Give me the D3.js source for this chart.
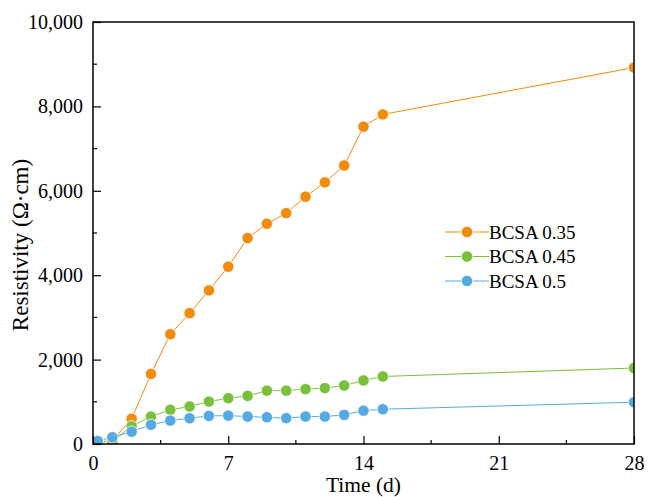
<!DOCTYPE html>
<html>
<head>
<meta charset="utf-8">
<script src="https://cdn.jsdelivr.net/npm/d3@7"></script>
<style>
  html, body { margin: 0; padding: 0; background: #fff; }
  svg { display: block; font-family: "Liberation Serif", "Times New Roman", serif; }
</style>
</head>
<body>
<svg id="chart" width="648" height="497"></svg>
<script>
const days = [0.25, 1, 2, 3, 4, 5, 6, 7, 8, 9, 10, 11, 12, 13, 14, 15, 28];
const bcsa035 = [50, 80, 600, 1660, 2600, 3100, 3640, 4200, 4880, 5220, 5470, 5860, 6200, 6600, 7520, 7810, 8920];
const bcsa045 = [50, 60, 420, 650, 810, 890, 1005, 1085, 1140, 1265, 1265, 1300, 1325, 1385, 1505, 1600, 1800];
const bcsa05 = [70, 160, 292, 455, 555, 610, 665, 673, 650, 633, 612, 650, 650, 690, 790, 824, 990];
const seriesNames = ["BCSA 0.35", "BCSA 0.45", "BCSA 0.5"];
const seriesColors = ["#F28C0C", "#79C13B", "#56AAE3"];
const xTicks = [0, 7, 14, 21, 28];
const yTicks = [0, 2000, 4000, 6000, 8000, 10000];

const series = [bcsa035, bcsa045, bcsa05].map((vals, i) => ({
  name: seriesNames[i], color: seriesColors[i],
  points: days.map((d, j) => ({ x: d, y: vals[j] }))
}));

const svg = d3.select("#chart");
const m = { left: 93, right: 14, top: 22, bottom: 53 };
const W = 648, H = 497;
const x = d3.scaleLinear().domain([0, 28]).range([m.left, W - m.right]);
const y = d3.scaleLinear().domain([0, 10000]).range([H - m.bottom, m.top]);

svg.append("defs").append("clipPath").attr("id", "clip")
  .append("rect").attr("x", m.left).attr("y", m.top)
  .attr("width", x(28) - m.left).attr("height", y(0) - m.top);

const plot = svg.append("g").attr("clip-path", "url(#clip)");
const line = d3.line().x(d => x(d.x)).y(d => y(d.y));

series.forEach(s => {
  plot.append("path").datum(s.points).attr("d", line)
    .attr("fill", "none").attr("stroke", s.color).attr("stroke-width", 1);
});
series.forEach(s => {
  plot.selectAll(null).data(s.points).enter().append("circle")
    .attr("cx", d => x(d.x)).attr("cy", d => y(d.y)).attr("r", 5.7)
    .attr("fill", s.color).attr("stroke", "#fff").attr("stroke-width", 0.8);
});

// frame
svg.append("rect").attr("x", m.left).attr("y", m.top)
  .attr("width", x(28) - m.left).attr("height", y(0) - m.top)
  .attr("fill", "none").attr("stroke", "#000").attr("stroke-width", 1.5);

// x axis
const xAxis = d3.axisBottom(x).tickValues(xTicks).tickSize(-8).tickPadding(12).tickFormat(d3.format("d"));
const gx = svg.append("g").attr("transform", `translate(0,${y(0)})`).call(xAxis);
const xMinor = d3.range(3.5, 28, 7);
gx.selectAll(".minor").data(xMinor).enter().append("line")
  .attr("x1", d => x(d)).attr("x2", d => x(d)).attr("y1", 0).attr("y2", -4)
  .attr("stroke", "#000").attr("stroke-width", 1.2);

// y axis
const yAxis = d3.axisLeft(y).tickValues(yTicks).tickSize(-8).tickPadding(10).tickFormat(d3.format(","));
const gy = svg.append("g").attr("transform", `translate(${m.left},0)`).call(yAxis);
const yMinor = d3.range(1000, 10000, 2000);
gy.selectAll(".minor").data(yMinor).enter().append("line")
  .attr("y1", d => y(d)).attr("y2", d => y(d)).attr("x1", 0).attr("x2", 4)
  .attr("stroke", "#000").attr("stroke-width", 1.2);

[gx, gy].forEach(g => {
  g.select(".domain").remove();
  g.selectAll(".tick line").attr("stroke", "#000").attr("stroke-width", 1.2);
  g.selectAll(".tick text").attr("fill", "#000").style("font-size", "20px")
    .style("font-family", "'Liberation Serif', serif");
});

// axis titles
svg.append("text").attr("x", (x(0) + x(28)) / 2).attr("y", 492)
  .attr("text-anchor", "middle").style("font-size", "21.5px").text("Time (d)");
svg.append("text").attr("transform", `translate(28,245) rotate(-90)`)
  .attr("text-anchor", "middle").style("font-size", "23px").text("Resistivity (Ω·cm)");

// legend
const leg = svg.append("g").attr("transform", "translate(445,232)");
series.forEach((s, i) => {
  const g = leg.append("g").attr("transform", `translate(0,${i * 24.5})`);
  g.append("line").attr("x1", 0).attr("x2", 44).attr("y1", 0).attr("y2", 0)
    .attr("stroke", s.color).attr("stroke-width", 1);
  g.append("circle").attr("cx", 22).attr("cy", 0).attr("r", 5.7)
    .attr("fill", s.color).attr("stroke", "#fff").attr("stroke-width", 0.8);
  g.append("text").attr("x", 44).attr("y", 0).attr("dy", "0.35em")
    .style("font-size", "19px").text(s.name);
});
</script>
</body>
</html>
